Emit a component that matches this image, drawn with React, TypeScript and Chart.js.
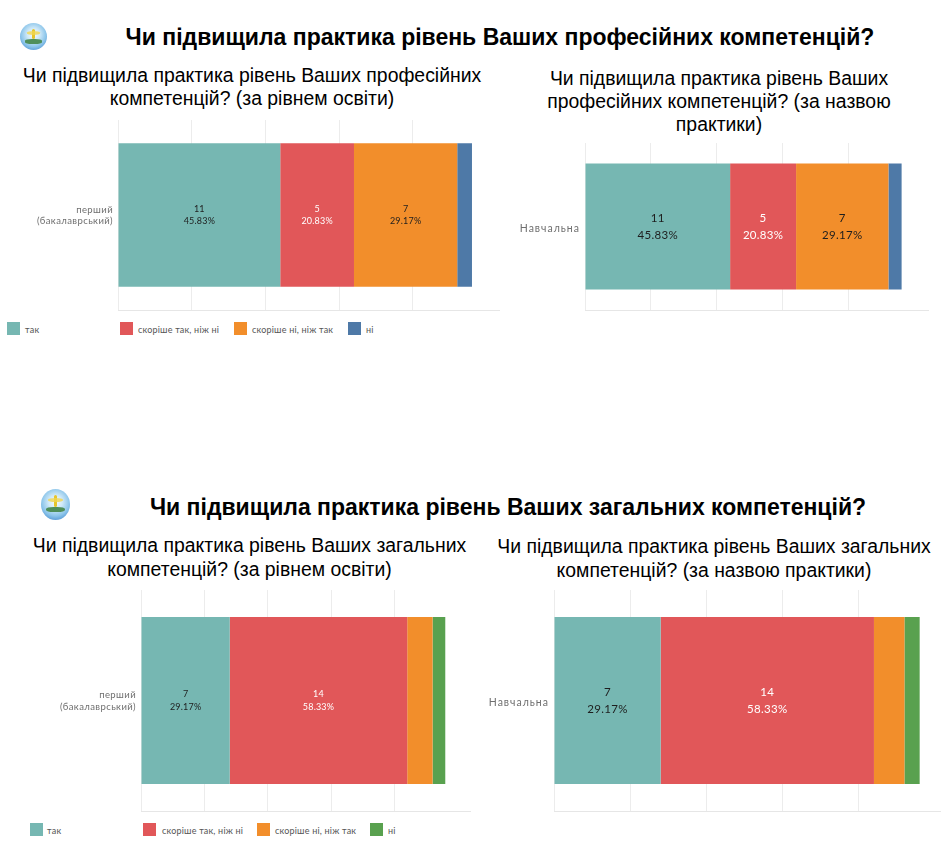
import React, { useEffect, useRef } from "react";
import { Chart, registerables } from "chart.js";

Chart.register(...registerables);

// ---------- DATA ----------
const seriesNames = ["так", "скоріше так, ніж ні", "скоріше ні, ніж так", "ні"];
const coloursProfessional = ["#76B7B2", "#E15759", "#F28E2B", "#4E79A7"];
const coloursGeneral = ["#76B7B2", "#E15759", "#F28E2B", "#59A14F"];
const labelTextColours = ["#1e1e1e", "#ffffff", "#1e1e1e", "#ffffff"];

const levelCategories = [["перший", "(бакалаврський)"]];
const practiceCategories = ["Навчальна"];

// one value per series (single category)
const professionalByLevel = [11, 5, 7, 1];
const professionalByPractice = [11, 5, 7, 1];
const generalByLevel = [7, 14, 2, 1];
const generalByPractice = [7, 14, 2, 1];

const gridStep = 5;

const mainTitleProfessional = "Чи підвищила практика рівень Ваших професійних компетенцій?";
const mainTitleGeneral = "Чи підвищила практика рівень Ваших загальних компетенцій?";
const subtitleProfLevel = ["Чи підвищила практика рівень Ваших професійних", "компетенцій? (за рівнем освіти)"];
const subtitleProfPractice = ["Чи підвищила практика рівень Ваших", "професійних компетенцій? (за назвою", "практики)"];
const subtitleGenLevel = ["Чи підвищила практика рівень Ваших загальних", "компетенцій? (за рівнем освіти)"];
const subtitleGenPractice = ["Чи підвищила практика рівень Ваших загальних", "компетенцій? (за назвою практики)"];

// ---------- PLUGINS ----------
const valueLabelsPlugin = {
  id: "valueLabels",
  afterDatasetsDraw(chart: any, _args: any, opts: any) {
    const ctx = chart.ctx;
    const datasets = chart.data.datasets;
    const nCats = chart.data.labels.length;
    for (let i = 0; i < nCats; i++) {
      let total = 0;
      datasets.forEach((ds: any) => (total += Number(ds.data[i]) || 0));
      datasets.forEach((ds: any, di: number) => {
        const meta = chart.getDatasetMeta(di);
        const el = meta.data[i];
        if (!el) return;
        const p = el.getProps(["x", "y", "base"], true);
        const w = Math.abs(p.x - p.base);
        if (w < opts.minWidth) return;
        const v = ds.data[i];
        const cx = (p.x + p.base) / 2;
        ctx.save();
        ctx.letterSpacing = opts.spacing || "0px";
        ctx.font = `${opts.size}px Lato, "Noto Sans", sans-serif`;
        ctx.fillStyle = opts.colors[di];
        ctx.textAlign = "center";
        ctx.textBaseline = "middle";
        ctx.fillText(String(v), cx, p.y - opts.gap);
        ctx.fillText(((v / total) * 100).toFixed(2) + "%", cx, p.y + opts.gap);
        ctx.restore();
      });
    }
  },
};

const spacingPlugin = {
  id: "tickSpacing",
  beforeDraw(chart: any, _a: any, opts: any) {
    chart.ctx.letterSpacing = opts.spacing || "0px";
  },
  beforeDatasetsDraw(chart: any) {
    chart.ctx.letterSpacing = "0px";
  },
};

type BoxProps = {
  left: number;
  top: number;
  width: number;
  height: number;
  categories: any[];
  values: number[];
  colors: string[];
  yWidth: number;
  padTop: number;
  padBottom: number;
  padRight: number;
  xMax: number;
  tickSize: number;
  tickSpacing: string;
  tickPadding: number;
  tickOffset: number;
  labelSize: number;
  labelGap: number;
  labelSpacing: string;
};

function BarBox(props: BoxProps) {
  const ref = useRef<HTMLCanvasElement>(null);
  useEffect(() => {
    if (!ref.current) return;
    const chart = new Chart(ref.current, {
      type: "bar",
      data: {
        labels: props.categories,
        datasets: seriesNames.map((name, i) => ({
          label: name,
          data: [props.values[i]],
          backgroundColor: props.colors[i],
          borderWidth: 0,
          categoryPercentage: 0.755,
          barPercentage: 1,
        })),
      },
      options: {
        indexAxis: "y",
        responsive: false,
        animation: false,
        devicePixelRatio: 1,
        layout: { padding: { top: props.padTop, bottom: props.padBottom, right: props.padRight, left: 0 } },
        plugins: {
          legend: { display: false },
          tooltip: { enabled: false },
          title: { display: false },
          valueLabels: { size: props.labelSize, gap: props.labelGap, colors: labelTextColours, minWidth: 40, spacing: props.labelSpacing },
          tickSpacing: { spacing: props.tickSpacing },
        } as any,
        scales: {
          x: {
            stacked: true,
            min: 0,
            max: props.xMax,
            ticks: { display: false, stepSize: gridStep },
            grid: {
              drawTicks: false,
              color: (c: any) => (c.tick && c.tick.value % gridStep === 0 ? "#ececec" : "rgba(0,0,0,0)"),
            },
            border: { display: true, color: "#e6e6e6" },
            afterFit: (s: any) => {
              s.height = 0;
              s.paddingLeft = 0;
              s.paddingRight = 0;
            },
          },
          y: {
            stacked: true,
            ticks: {
              color: "#6f6f6f",
              font: { family: "Lato, 'Noto Sans', sans-serif", size: props.tickSize },
              padding: props.tickPadding,
              labelOffset: props.tickOffset,
            },
            grid: { display: false, drawTicks: false },
            border: { display: false },
            afterFit: (s: any) => {
              s.width = props.yWidth;
              s.paddingTop = 0;
              s.paddingBottom = 0;
            },
          },
        },
      } as any,
      plugins: [valueLabelsPlugin, spacingPlugin],
    });
    return () => chart.destroy();
  }, []);
  return (
    <canvas
      ref={ref}
      width={props.width}
      height={props.height}
      style={{ position: "absolute", left: props.left, top: props.top, width: props.width, height: props.height }}
    />
  );
}

function Legend({ top, squareXs, textXs, colors }: { top: number; squareXs: number[]; textXs: number[]; colors: string[] }) {
  return (
    <>
      {seriesNames.map((name, i) => (
        <React.Fragment key={name}>
          <div style={{ position: "absolute", left: squareXs[i], top: top - 6.5, width: 13, height: 13, background: colors[i] }} />
          <div
            style={{
              position: "absolute",
              left: textXs[i],
              top: top - 6,
              fontFamily: "Lato, 'Noto Sans', sans-serif",
              fontSize: 9,
              lineHeight: "14px",
              letterSpacing: "0.2px",
              color: "#555",
              whiteSpace: "nowrap",
            }}
          >
            {name}
          </div>
        </React.Fragment>
      ))}
    </>
  );
}

function TextBlock({ lines, center, top, size, bold, lineHeight }: { lines: string[]; center: number; top: number; size: number; bold?: boolean; lineHeight: number }) {
  const w = 1000;
  return (
    <div
      style={{
        position: "absolute",
        left: center - w / 2,
        top,
        width: w,
        textAlign: "center",
        fontFamily: "'Liberation Sans', Arial, sans-serif",
        fontSize: size,
        fontWeight: bold ? 700 : 400,
        lineHeight: lineHeight + "px",
        color: "#000",
        whiteSpace: "nowrap",
        pointerEvents: "none",
      }}
    >
      {lines.map((l, i) => (
        <div key={i}>{l}</div>
      ))}
    </div>
  );
}

function Logo({ cx, cy, w, h }: { cx: number; cy: number; w: number; h: number }) {
  return (
    <div
      style={{
        position: "absolute",
        left: cx - w / 2,
        top: cy - h / 2,
        width: w,
        height: h,
        borderRadius: "50%",
        background:
          "radial-gradient(circle at 50% 42%, #f7fcff 0%, #cfe9f8 30%, #8cc5ea 60%, #4f92d2 85%, #bcd9ef 100%)",
        overflow: "hidden",
      }}
    >
      <div style={{ position: "absolute", left: w * 0.45, top: h * 0.2, width: w * 0.1, height: h * 0.4, background: "#e6c52c", borderRadius: 2 }} />
      <div style={{ position: "absolute", left: w * 0.25, top: h * 0.3, width: w * 0.5, height: h * 0.12, background: "rgba(240,214,80,0.8)", borderRadius: "50%" }} />
      <div style={{ position: "absolute", left: w * 0.18, top: h * 0.6, width: w * 0.64, height: h * 0.16, background: "#4f8f5a", borderRadius: "40%" }} />
    </div>
  );
}

export default function App() {
  return (
    <div style={{ position: "absolute", left: 0, top: 0, width: 941, height: 854, background: "#fff", overflow: "hidden" }}>
      <Logo cx={33.7} cy={36.7} w={27} h={27} />
      <TextBlock lines={[mainTitleProfessional]} center={500} top={24} size={23} bold lineHeight={26} />
      <TextBlock lines={subtitleProfLevel} center={252} top={63.5} size={19.4} lineHeight={23.5} />
      <TextBlock lines={subtitleProfPractice} center={719} top={67} size={19.4} lineHeight={23} />

      <BarBox
        left={0} top={112} width={500} height={200}
        categories={levelCategories} values={professionalByLevel} colors={coloursProfessional}
        yWidth={118} padTop={8} padBottom={2} padRight={0} xMax={25.9}
        tickSize={9.5} tickSpacing="0.4px" tickPadding={5} tickOffset={0.5}
        labelSize={9} labelGap={6.3} labelSpacing="0.2px"
      />
      <BarBox
        left={500} top={135} width={441} height={177}
        categories={practiceCategories} values={professionalByPractice} colors={coloursProfessional}
        yWidth={85} padTop={8} padBottom={2} padRight={13} xMax={26}
        tickSize={10.5} tickSpacing="1px" tickPadding={5} tickOffset={2}
        labelSize={11.5} labelGap={8.5} labelSpacing="0.3px"
      />
      <Legend top={328.5} squareXs={[7, 120, 234, 348]} textXs={[25, 138, 252, 366]} colors={coloursProfessional} />

      <Logo cx={55.5} cy={504} w={29} h={31} />
      <TextBlock lines={[mainTitleGeneral]} center={508} top={493.5} size={23} bold lineHeight={26} />
      <TextBlock lines={subtitleGenLevel} center={249.5} top={534} size={19.4} lineHeight={23.5} />
      <TextBlock lines={subtitleGenPractice} center={714} top={535} size={19.4} lineHeight={23.5} />

      <BarBox
        left={0} top={582} width={480} height={231}
        categories={levelCategories} values={generalByLevel} colors={coloursGeneral}
        yWidth={141} padTop={8} padBottom={2} padRight={10} xMax={25.95}
        tickSize={9.5} tickSpacing="0.4px" tickPadding={5} tickOffset={0.5}
        labelSize={9} labelGap={6.5} labelSpacing="0.2px"
      />
      <BarBox
        left={470} top={582} width={471} height={231}
        categories={practiceCategories} values={generalByPractice} colors={coloursGeneral}
        yWidth={84} padTop={8} padBottom={2} padRight={0} xMax={25.4}
        tickSize={10.5} tickSpacing="1px" tickPadding={5} tickOffset={2}
        labelSize={11.5} labelGap={8.5} labelSpacing="0.3px"
      />
      <Legend top={829.5} squareXs={[30, 143, 257, 370]} textXs={[47, 162, 275, 388]} colors={coloursGeneral} />
    </div>
  );
}
